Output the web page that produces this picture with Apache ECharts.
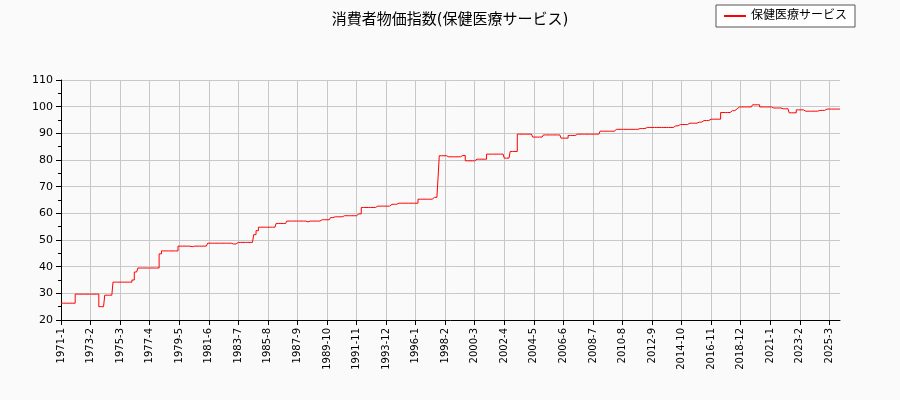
<!DOCTYPE html>
<html>
<head>
<meta charset="utf-8">
<script src="https://cdn.jsdelivr.net/npm/echarts@6/dist/echarts.min.js"></script>
<style>
  html, body { margin: 0; padding: 0; background: #fafafa; }
  #chart { width: 900px; height: 400px; }
</style>
</head>
<body>
<div id="chart"></div>
<script>
// step change points: month where the value changes, and new value
const changeMonths = ['1971-1', '1972-1', '1973-9', '1974-2', '1974-9', '1976-1', '1976-3', '1976-6',
  '1977-12', '1978-2', '1979-4', '1980-3', '1980-5', '1981-5', '1983-1', '1983-5', '1984-8', '1984-10',
  '1984-12', '1986-3', '1986-12', '1988-4', '1988-6', '1989-4', '1990-1', '1990-3', '1990-12', '1991-12',
  '1992-3', '1993-3', '1994-4', '1994-10', '1996-3', '1997-3', '1997-8', '1997-9', '1998-3', '1999-3',
  '1999-7', '2000-4', '2001-1', '2002-4', '2002-9', '2003-3', '2004-4', '2005-1', '2006-4', '2006-10',
  '2007-4', '2009-1', '2010-1', '2011-10', '2012-4', '2014-3', '2014-8', '2015-3', '2015-11', '2016-4',
  '2016-10', '2017-7', '2018-3', '2018-7', '2018-9', '2019-10', '2020-4', '2021-3', '2021-10', '2022-5',
  '2022-11', '2023-5', '2024-5', '2024-6', '2024-11'];
const changeValues = [26.3, 29.7, 25.0, 29.3, 34.2, 35.0, 38.0, 39.5,
  44.8, 45.9, 47.7, 47.5, 47.7, 48.8, 48.5, 49.1, 52.0, 53.5,
  54.8, 56.2, 57.1, 56.8, 57.1, 57.6, 58.4, 58.7, 59.1, 59.8,
  62.2, 62.7, 63.4, 63.8, 65.3, 66.0, 73.5, 81.6, 81.2, 81.7,
  79.7, 80.3, 82.2, 80.7, 83.2, 89.7, 88.6, 89.4, 88.2, 89.2,
  89.7, 90.8, 91.5, 91.8, 92.2, 92.8, 93.3, 93.8, 94.2, 94.8,
  95.3, 97.8, 98.5, 99.2, 99.9, 100.7, 99.9, 99.5, 99.2, 97.7,
  98.8, 98.3, 97.8, 98.6, 99.1];
const firstYear = 1971;
const lastMonth = '2025-12';
const seriesName = '保健医療サービス';

const toIndex = s => { const [y, m] = s.split('-').map(Number); return (y - firstYear) * 12 + m - 1; };
const months = [];
for (let i = 0; i <= toIndex(lastMonth); i++) {
  months.push((firstYear + Math.floor(i / 12)) + '-' + (i % 12 + 1));
}
const values = [];
let k = 0;
for (let i = 0; i < months.length; i++) {
  while (k + 1 < changeMonths.length && toIndex(changeMonths[k + 1]) <= i) k++;
  values.push(changeValues[k]);
}

const font = "'DejaVu Sans', 'Noto Sans CJK JP', sans-serif";
const chart = echarts.init(document.getElementById('chart'));
chart.setOption({
  backgroundColor: '#fafafa',
  animation: false,
  textStyle: { fontFamily: font },
  title: {
    text: '消費者物価指数(保健医療サービス)',
    left: 'center', top: 8,
    textStyle: { fontSize: 15, fontWeight: 'normal', color: '#000', fontFamily: font }
  },
  legend: {
    right: 45, top: 5,
    itemWidth: 22, itemHeight: 2,
    borderColor: '#555', borderWidth: 1, borderRadius: 0,
    padding: [5, 8],
    backgroundColor: '#fff',
    textStyle: { fontSize: 12, color: '#000', fontFamily: font },
    data: [{ name: seriesName, icon: 'rect' }]
  },
  grid: { left: 61, right: 60, top: 80, bottom: 80 },
  xAxis: {
    type: 'category',
    data: months,
    boundaryGap: false,
    axisLine: { lineStyle: { color: '#000' } },
    axisTick: { interval: 24, lineStyle: { color: '#000' } },
    axisLabel: { interval: 24, rotate: 90, fontSize: 10, color: '#000', fontFamily: font },
    splitLine: { show: true, interval: 24, lineStyle: { color: '#c8c8c8' } }
  },
  yAxis: {
    type: 'value',
    min: 20, max: 110, interval: 10,
    axisLine: { show: true, lineStyle: { color: '#000' } },
    axisTick: { show: true, lineStyle: { color: '#000' } },
    minorTick: { show: true, splitNumber: 2, length: 3, lineStyle: { color: '#000' } },
    axisLabel: { fontSize: 11, color: '#000', fontFamily: font },
    splitLine: { lineStyle: { color: '#c8c8c8' } }
  },
  series: [{
    name: seriesName,
    type: 'line',
    step: 'end',
    data: values,
    showSymbol: false,
    lineStyle: { color: '#ff0000', width: 1 },
    itemStyle: { color: '#ff0000' }
  }]
});
</script>
</body>
</html>
